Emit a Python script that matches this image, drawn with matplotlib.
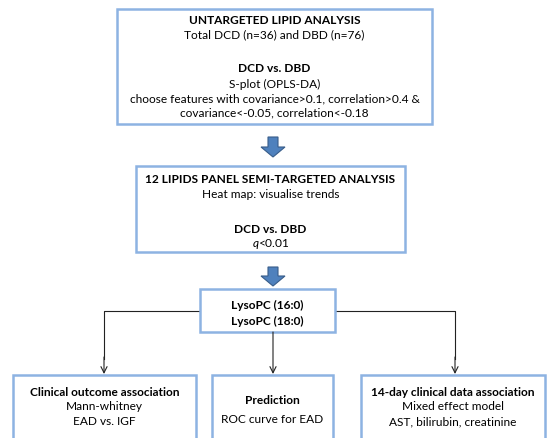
import matplotlib
matplotlib.use("Agg")
import matplotlib.pyplot as plt
from matplotlib.patches import Rectangle, FancyArrow

plt.rcParams['font.family'] = ['Lato', 'DejaVu Sans']
plt.rcParams['mathtext.fontset'] = 'custom'
plt.rcParams['mathtext.it'] = 'Lato:italic'
plt.rcParams['mathtext.rm'] = 'Lato'

# box texts: (text, bold)
box1_lines = [("UNTARGETED LIPID ANALYSIS", True),
              ("Total DCD (n=36) and DBD (n=76)", False),
              ("DCD vs. DBD", True),
              ("S-plot (OPLS-DA)", False),
              ("choose features with covariance>0.1, correlation>0.4 &", False),
              ("covariance<-0.05, correlation<-0.18", False)]
box2_lines = [("12 LIPIDS PANEL SEMI-TARGETED ANALYSIS", True),
              ("Heat map: visualise trends", False),
              ("DCD vs. DBD", True),
              ("$q$<0.01", False)]
box3_lines = [("LysoPC (16:0)", True),
              ("LysoPC (18:0)", True)]
boxa_lines = [("Clinical outcome association", True),
              ("Mann-whitney", False),
              ("EAD vs. IGF", False)]
boxb_lines = [("Prediction", True),
              ("ROC curve for EAD", False)]
boxc_lines = [("14-day clinical data association", True),
              ("Mixed effect model", False),
              ("AST, bilirubin, creatinine", False)]

W, H = 548, 439
fig = plt.figure(figsize=(W / 100, H / 100), dpi=100)
ax = fig.add_axes([0, 0, 1, 1])
ax.set_xlim(0, W)
ax.set_ylim(H, 0)
ax.axis('off')

border = '#8DB3E2'
fs = 8.6


def box(x0, y0, x1, y1, lines, ys):
    ax.add_patch(Rectangle((x0, y0), x1 - x0, y1 - y0, facecolor='white',
                           edgecolor=border, lw=1.8, zorder=2))
    cx = (x0 + x1) / 2
    for (t, b), y in zip(lines, ys):
        ax.text(cx, y, t, ha='center', va='center',
                fontsize=fs, fontweight='bold' if b else 'normal',
                color='black', zorder=3)


box(117, 10, 432, 125, box1_lines, [21, 35, 69, 84, 99, 113])
box(136, 167, 405, 253, box2_lines, [180, 195, 230, 244])
box(200, 290, 335, 333, box3_lines, [305, 321])
box(13, 376, 196, 445, boxa_lines, [393, 407, 422])
box(212, 376, 333, 445, boxb_lines, [401, 420])
box(361, 376, 545, 445, boxc_lines, [393, 407, 422])


def block_arrow(x, y0, y1):
    ax.add_patch(FancyArrow(x, y0, 0, y1 - y0, width=10, head_width=24,
                            head_length=10, length_includes_head=True,
                            facecolor='#4F81BD', edgecolor='#385D8A',
                            lw=0.8, zorder=3))


block_arrow(273, 138, 158)
block_arrow(273, 268, 287)

# connectors
lc = dict(color='#222222', lw=0.8, zorder=1)
ax.plot([200, 104, 104], [312, 312, 360], **lc)
ax.plot([335, 455, 455], [312, 312, 360], **lc)
ap = dict(arrowstyle='->', color='#222222', lw=0.8, mutation_scale=11,
          shrinkA=0, shrinkB=0)
ax.annotate('', xy=(104, 375), xytext=(104, 358), arrowprops=ap)
ax.annotate('', xy=(455, 375), xytext=(455, 358), arrowprops=ap)
ax.annotate('', xy=(273, 375), xytext=(273, 333), arrowprops=ap)

fig.savefig('out.png', dpi=100)
